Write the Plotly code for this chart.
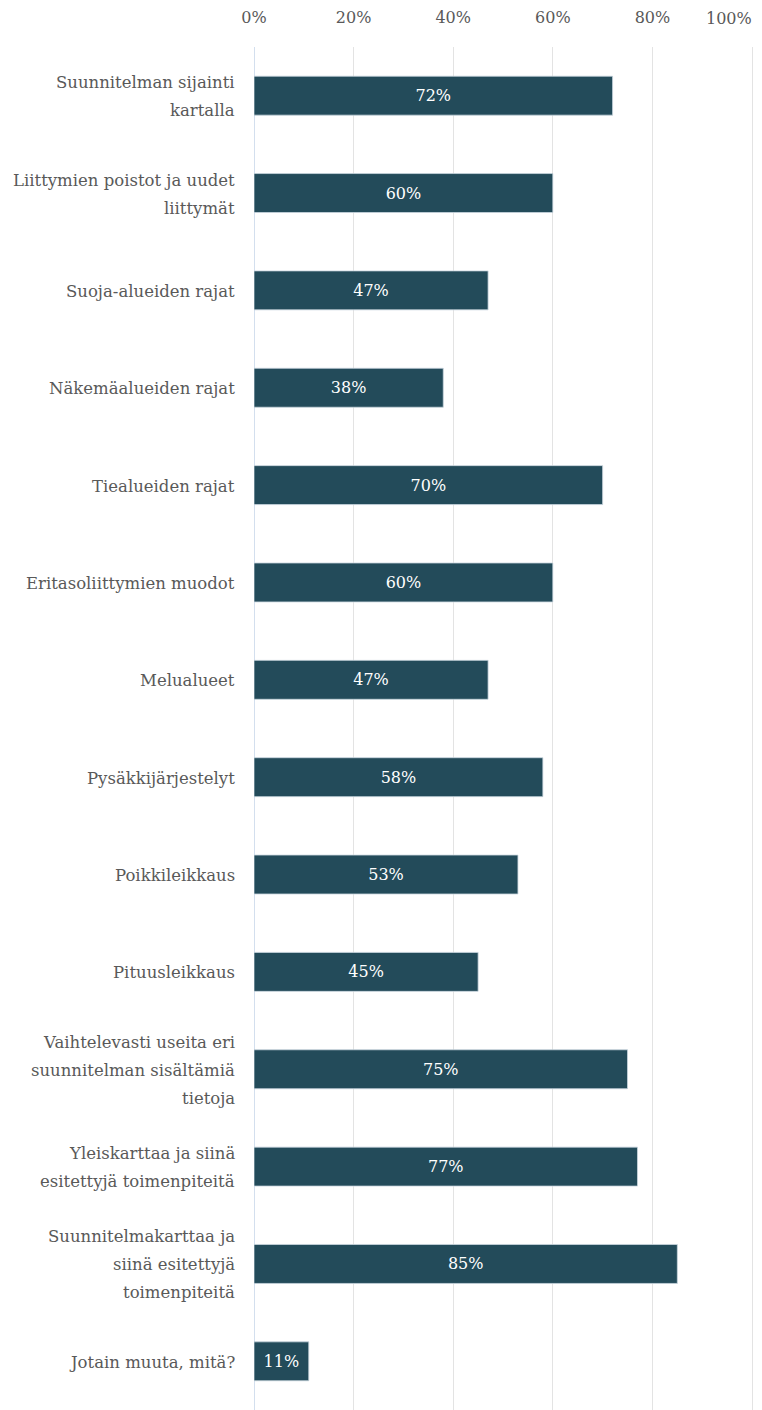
import plotly.graph_objects as go

categories = [
    "Suunnitelman sijainti<br>kartalla",
    "Liittymien poistot ja uudet<br>liittymät",
    "Suoja-alueiden rajat",
    "Näkemäalueiden rajat",
    "Tiealueiden rajat",
    "Eritasoliittymien muodot",
    "Melualueet",
    "Pysäkkijärjestelyt",
    "Poikkileikkaus",
    "Pituusleikkaus",
    "Vaihtelevasti useita eri<br>suunnitelman sisältämiä<br>tietoja",
    "Yleiskarttaa ja siinä<br>esitettyjä toimenpiteitä",
    "Suunnitelmakarttaa ja<br>siinä esitettyjä<br>toimenpiteitä",
    "Jotain muuta, mitä?",
]
values = [72, 60, 47, 38, 70, 60, 47, 58, 53, 45, 75, 77, 85, 11]

tick_vals = [0, 20, 40, 60, 80, 100]
tick_text = ["0%", "20%", "40%", "60%", "80%", ""]
last_tick_label = "100%"

FONT = "DejaVu Serif"
GREY = "#595959"
LABEL_SIZE = 16.5
LINE_GAP = 28

fig = go.Figure(
    go.Bar(
        x=values,
        y=categories,
        orientation="h",
        marker=dict(color="#234b5a", line=dict(color="#c9d6de", width=0.8)),
        text=[f"{v}%" for v in values],
        textposition="inside",
        insidetextanchor="middle",
        textfont=dict(family=FONT, size=16, color="white"),
        constraintext="none",
        hoverinfo="skip",
    )
)

# category labels, one annotation per text line for wider line spacing
annotations = []
for cat in categories:
    lines = cat.split("<br>")
    n = len(lines)
    for i, line in enumerate(lines):
        annotations.append(dict(
            xref="paper", x=0, xanchor="right", xshift=-17,
            yref="y", y=cat, yanchor="middle",
            yshift=((n - 1) / 2 - i) * LINE_GAP - 1,
            text=line, showarrow=False,
            font=dict(family=FONT, size=LABEL_SIZE, color=GREY),
        ))

# the last x tick label sits left of its gridline so it stays inside the page
annotations.append(dict(
    xref="x", x=tick_vals[-1], xanchor="center", xshift=-23,
    yref="paper", y=1, yanchor="middle", yshift=29,
    text=last_tick_label, showarrow=False,
    font=dict(family=FONT, size=16, color=GREY),
))

fig.update_layout(
    width=762,
    height=1410,
    margin=dict(l=254, r=0, t=47, b=0),
    paper_bgcolor="white",
    plot_bgcolor="white",
    bargap=0.6,
    showlegend=False,
    font=dict(family=FONT, size=16, color=GREY),
    annotations=annotations,
)

fig.update_xaxes(
    side="top",
    range=[0, 102],
    automargin=False,
    tickvals=tick_vals,
    ticktext=tick_text,
    showgrid=True,
    gridcolor="#e3e3e3",
    gridwidth=1,
    zeroline=True,
    zerolinecolor="#d3dfee",
    zerolinewidth=1,
    showline=False,
    ticks="",
    ticklabelstandoff=20,
    tickfont=dict(family=FONT, size=16, color=GREY),
    fixedrange=True,
)

fig.update_yaxes(
    autorange="reversed",
    automargin=False,
    showticklabels=False,
    showgrid=False,
    zeroline=False,
    showline=False,
    ticks="",
    fixedrange=True,
)

fig.write_html("out.html")
